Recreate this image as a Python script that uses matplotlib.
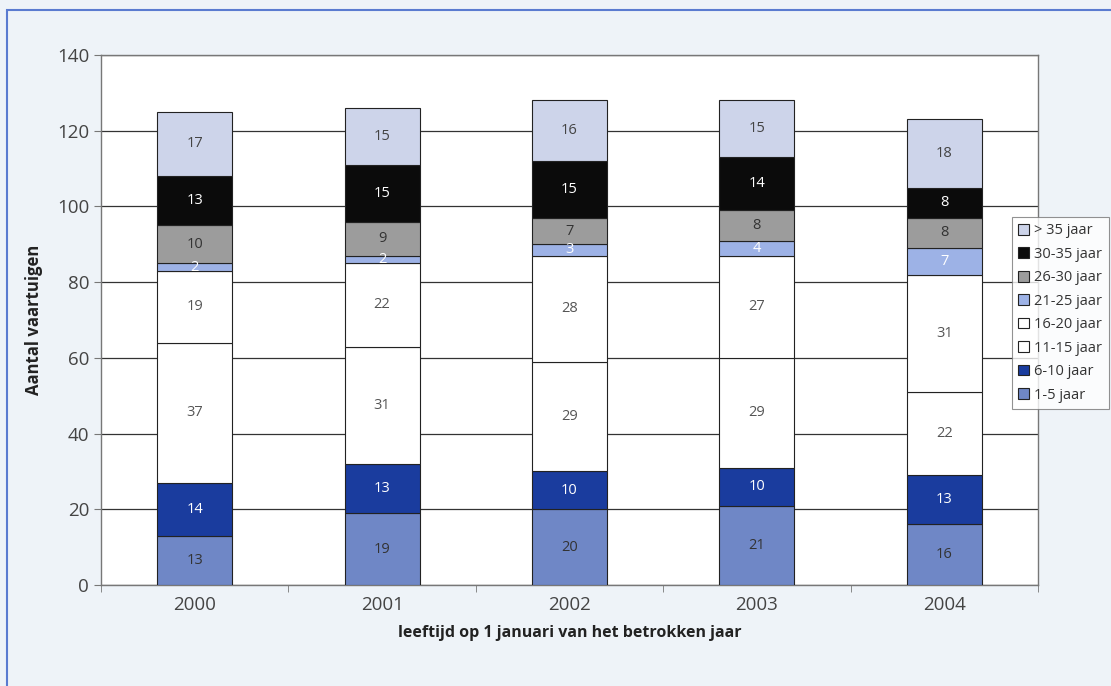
import numpy as np
import matplotlib.pyplot as plt
from matplotlib.patches import Rectangle

plt.rcParams['font.family'] = ['Open Sans', 'DejaVu Sans']

years = ["2000", "2001", "2002", "2003", "2004"]
groups = ["1-5 jaar", "6-10 jaar", "11-15 jaar", "16-20 jaar",
          "21-25 jaar", "26-30 jaar", "30-35 jaar", "> 35 jaar"]

j1_5 = [13, 19, 20, 21, 16]
j6_10 = [14, 13, 10, 10, 13]
j11_15 = [37, 31, 29, 29, 22]
j16_20 = [19, 22, 28, 27, 31]
j21_25 = [2, 2, 3, 4, 7]
j26_30 = [10, 9, 7, 8, 8]
j30_35 = [13, 15, 15, 14, 8]
j35plus = [17, 15, 16, 15, 18]

series = [j1_5, j6_10, j11_15, j16_20, j21_25, j26_30, j30_35, j35plus]
colors = ["#6f87c6", "#1a3c9e", "#ffffff", "#ffffff",
          "#9db2e6", "#9c9c9c", "#0b0b0b", "#cdd4ea"]
text_colors = ["#333333", "white", "#555555", "#555555",
               "white", "#333333", "white", "#444444"]

fig = plt.figure(figsize=(11.11, 6.86), dpi=100)
fig.patch.set_facecolor("#eef3f8")
# blue frame round the chart
fig.patches.append(Rectangle((7 / 1111, -0.05), 1.2, 1 - 10 / 686 + 0.05,
                             transform=fig.transFigure, fill=False,
                             edgecolor="#5a7bd0", linewidth=1.5))

ax = fig.add_axes([0.0909, 0.1472, 0.8434, 0.7726])
ax.set_facecolor("white")

x = np.arange(len(years))
bottom = np.zeros(len(years))
handles = []
for vals, col, tc, name in zip(series, colors, text_colors, groups):
    vals = np.array(vals, dtype=float)
    b = ax.bar(x, vals, 0.4, bottom=bottom, color=col, edgecolor="#222222",
               linewidth=0.8, label=name, zorder=3)
    handles.append(b)
    for xi, v, b0 in zip(x, vals, bottom):
        ax.text(xi, b0 + v / 2, f"{int(v)}", ha="center", va="center",
                fontsize=10.5, color=tc, zorder=4)
    bottom += vals

ax.set_xlim(-0.5, 4.5)
ax.set_ylim(0, 140)
ax.set_yticks(range(0, 141, 20))
ax.yaxis.grid(True, color="#333333", linewidth=0.9, zorder=0)
ax.set_xticks(x)
ax.set_xticklabels(years)
ax.set_xticks(np.arange(-0.5, 5, 1), minor=True)
ax.tick_params(axis="x", which="major", length=0, pad=8, labelsize=13.5, labelcolor="#444444")
ax.tick_params(axis="x", which="minor", length=5, color="#777777")
ax.tick_params(axis="y", length=5, color="#777777", labelsize=13.5, labelcolor="#444444")
for s in ax.spines.values():
    s.set_color("#777777")
    s.set_linewidth(1.0)

ax.set_ylabel("Aantal vaartuigen", fontsize=12, fontweight="bold", color="#222222", labelpad=10)
ax.set_xlabel("leeftijd op 1 januari van het betrokken jaar", fontsize=11.5,
              fontweight="bold", color="#222222", labelpad=8)

leg = fig.legend(handles[::-1], groups[::-1], loc="upper left",
                 bbox_to_anchor=(0.9105, 0.684), fontsize=10.5, frameon=True,
                 fancybox=False, edgecolor="#777777", handlelength=0.75,
                 handleheight=0.75, handletextpad=0.35, labelspacing=0.58,
                 borderpad=0.45, borderaxespad=0, labelcolor="#333333")
leg.get_frame().set_linewidth(0.8)

fig.savefig("out.png", dpi=100, facecolor=fig.get_facecolor())
